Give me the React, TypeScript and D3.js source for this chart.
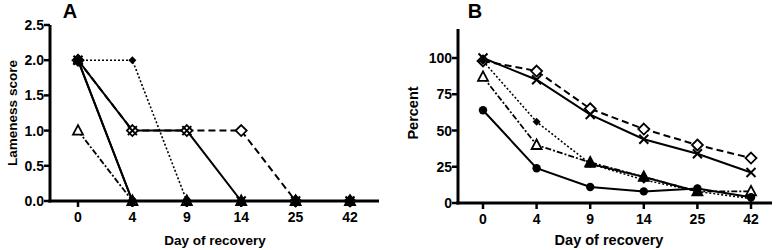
import React from "react";
import * as d3 from "d3";

const days = ["0", "4", "9", "14", "25", "42"];

// Panel A: lameness score
const aCircle = [2, 0, 0, 0, 0, 0];
const aCross = [2, 1, 1, 0, 0, 0];
const aOpenDiamond = [2, 1, 1, 1, 0, 0];
const aFilledDiamond = [2, 2, 0, 0, 0, 0];
const aOpenTriangle = [1, 0, 0, 0, 0, 0];
const aFilledTriangle = [2, 0, 0, 0, 0, 0];
const aTicks = [0, 0.5, 1, 1.5, 2, 2.5];

// Panel B: percent
const bCircle = [64, 24, 11, 8, 10, 4];
const bCross = [100, 85, 61, 44, 34, 21];
const bOpenDiamond = [98, 91, 65, 51, 40, 31];
const bFilledDiamond = [98, 56, 27, 16, 8, 3];
const bOpenTriangle = [87, 40, 28, 18, 8, 8];
const bFilledTriangle: (number | null)[] = [null, null, 27, 18, 8, null];
const bTicks = [0, 25, 50, 75, 100];

type Style = { dash: string | null; width: number; marker: string };

const styles: Record<string, Style> = {
  circle: { dash: null, width: 2, marker: "circle" },
  cross: { dash: null, width: 2, marker: "cross" },
  openDiamond: { dash: "7,4", width: 2, marker: "openDiamond" },
  filledDiamond: { dash: "2,2", width: 1.6, marker: "filledDiamond" },
  openTriangle: { dash: "6,2,2,2", width: 1.8, marker: "openTriangle" },
  filledTriangle: { dash: null, width: 2, marker: "filledTriangle" },
};

const FONT = "'Liberation Sans', Arial, Helvetica, sans-serif";

function Marker({ kind, x, y }: { kind: string; x: number; y: number }) {
  switch (kind) {
    case "circle":
      return <circle cx={x} cy={y} r={4.2} fill="#000" />;
    case "cross":
      return (
        <path
          d={`M${x - 4.5},${y - 4.5}L${x + 4.5},${y + 4.5}M${x - 4.5},${y + 4.5}L${x + 4.5},${y - 4.5}`}
          stroke="#000"
          strokeWidth={2}
        />
      );
    case "openDiamond":
      return (
        <path
          d={`M${x},${y - 5.5}L${x + 5.5},${y}L${x},${y + 5.5}L${x - 5.5},${y}Z`}
          fill="#fff"
          stroke="#000"
          strokeWidth={1.8}
        />
      );
    case "filledDiamond":
      return (
        <path d={`M${x},${y - 4}L${x + 4},${y}L${x},${y + 4}L${x - 4},${y}Z`} fill="#000" />
      );
    case "openTriangle":
      return (
        <path
          d={`M${x},${y - 5.5}L${x + 5},${y + 4}L${x - 5},${y + 4}Z`}
          fill="#fff"
          stroke="#000"
          strokeWidth={1.8}
        />
      );
    case "filledTriangle":
      return <path d={`M${x},${y - 6}L${x + 5.5},${y + 4}L${x - 5.5},${y + 4}Z`} fill="#000" />;
    default:
      return null;
  }
}

type SeriesDef = { key: string; values: (number | null)[] };

function Panel(props: {
  letter: string;
  letterX: number;
  xRange: [number, number];
  axisX: number;
  axisEndX: number;
  yDomain: [number, number];
  yRange: [number, number];
  ticks: number[];
  fmt: (v: number) => string;
  yLabel: string;
  yLabelX: number;
  yLabelY: number;
  xLabelX: number;
  series: SeriesDef[];
  fontSize: number;
  titleSize: number;
}) {
  const x = d3.scalePoint<string>().domain(days).range(props.xRange);
  const y = d3.scaleLinear().domain(props.yDomain).range(props.yRange);
  const y0 = y(0);
  const lineGen = d3
    .line<number | null>()
    .defined((d) => d !== null)
    .x((_, i) => x(days[i]) as number)
    .y((d) => y(d as number));

  return (
    <g>
      <text x={props.letterX} y={18} fontFamily={FONT} fontWeight="bold" fontSize={20} textAnchor="middle">
        {props.letter}
      </text>
      {props.series.map((s) => {
        const st = styles[s.key];
        return (
          <path
            key={"l" + s.key}
            d={lineGen(s.values) || ""}
            fill="none"
            stroke="#000"
            strokeWidth={st.width}
            strokeDasharray={st.dash || undefined}
          />
        );
      })}
      <line x1={props.axisX} x2={props.axisX} y1={y(props.yDomain[1])} y2={y0 + 1.5} stroke="#000" strokeWidth={3} />
      <line x1={props.axisX - 1.5} x2={props.axisEndX} y1={y0} y2={y0} stroke="#000" strokeWidth={3} />
      {props.ticks.map((t) => (
        <g key={"yt" + t}>
          <line x1={props.axisX - 6} x2={props.axisX} y1={y(t)} y2={y(t)} stroke="#000" strokeWidth={2.5} />
          <text
            x={props.axisX - 6}
            y={y(t)}
            dy="0.36em"
            textAnchor="end"
            fontFamily={FONT}
            fontWeight="bold"
            fontSize={props.fontSize}
          >
            {props.fmt(t)}
          </text>
        </g>
      ))}
      {days.map((d) => (
        <g key={"xt" + d}>
          <line x1={x(d)} x2={x(d)} y1={y0} y2={y0 + 6} stroke="#000" strokeWidth={2.5} />
          <text
            x={x(d)}
            y={y0 + 21}
            textAnchor="middle"
            fontFamily={FONT}
            fontWeight="bold"
            fontSize={props.fontSize}
          >
            {d}
          </text>
        </g>
      ))}
      {props.series.map((s) =>
        s.values.map((v, i) =>
          v === null ? null : (
            <Marker key={"m" + s.key + i} kind={styles[s.key].marker} x={x(days[i]) as number} y={y(v)} />
          )
        )
      )}
      <text
        x={props.xLabelX}
        y={245}
        textAnchor="middle"
        fontFamily={FONT}
        fontWeight="bold"
        fontSize={props.titleSize}
      >
        Day of recovery
      </text>
      <text
        transform={`translate(${props.yLabelX},${props.yLabelY}) rotate(-90)`}
        textAnchor="middle"
        dy="0.36em"
        fontFamily={FONT}
        fontWeight="bold"
        fontSize={props.titleSize}
      >
        {props.yLabel}
      </text>
    </g>
  );
}

export default function App() {
  const seriesA: SeriesDef[] = [
    { key: "filledTriangle", values: aFilledTriangle },
    { key: "openTriangle", values: aOpenTriangle },
    { key: "filledDiamond", values: aFilledDiamond },
    { key: "openDiamond", values: aOpenDiamond },
    { key: "cross", values: aCross },
    { key: "circle", values: aCircle },
  ];
  const seriesB: SeriesDef[] = [
    { key: "openDiamond", values: bOpenDiamond },
    { key: "cross", values: bCross },
    { key: "openTriangle", values: bOpenTriangle },
    { key: "filledTriangle", values: bFilledTriangle },
    { key: "circle", values: bCircle },
    { key: "filledDiamond", values: bFilledDiamond },
  ];
  return (
    <svg
      width={778}
      height={250}
      style={{ position: "absolute", left: 0, top: 0, background: "#fff" }}
    >
      <rect width={778} height={250} fill="#fff" />
      <Panel
        letter="A"
        letterX={70}
        xRange={[78, 350]}
        axisX={50}
        axisEndX={379}
        yDomain={[0, 2.5]}
        yRange={[201, 25]}
        ticks={aTicks}
        fmt={d3.format(".1f")}
        yLabel="Lameness score"
        yLabelX={12}
        yLabelY={113}
        xLabelX={215}
        series={seriesA}
        fontSize={14}
        titleSize={13.5}
      />
      <Panel
        letter="B"
        letterX={475}
        xRange={[483, 751]}
        axisX={458}
        axisEndX={772}
        yDomain={[0, 120]}
        yRange={[203, 29]}
        ticks={bTicks}
        fmt={d3.format("d")}
        yLabel="Percent"
        yLabelX={413}
        yLabelY={113}
        xLabelX={609}
        series={seriesB}
        fontSize={14}
        titleSize={14.5}
      />
    </svg>
  );
}
